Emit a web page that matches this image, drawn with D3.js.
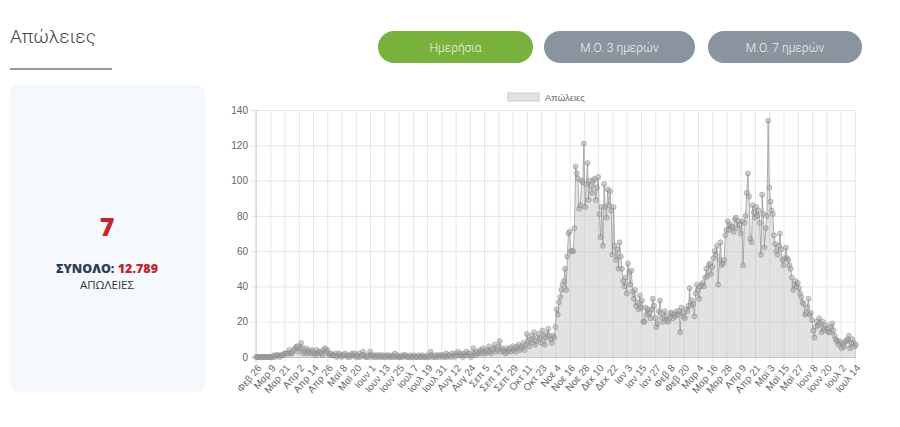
<!DOCTYPE html>
<html>
<head>
<meta charset="utf-8">
<script src="https://cdn.jsdelivr.net/npm/d3@7"></script>
<style>
body{margin:0;background:#fff;}
</style>
</head>
<body>
<div id="chart"></div>
<script>
/* data */
var startDate = new Date(Date.UTC(2020, 1, 26)); // Φεβ 26 2020, one value per day

// Feb 26 2020 - May 2020
var deathsSpring2020 = [
	0,0,0,0,
	0,0,0,0,0,0,0,0,0,0,0,1,0,1,1,1,0,1,1,1,2,2,2,2,4,2,2,3,4,5,6,
	6,3,5,8,5,2,3,5,2,4,3,2,4,3,2,1,4,2,3,3,2,1,4,5,3,4,2,1,2,1,
	1,1,2,0,1,2,1,0,1,1,2,1,0,1,0,1,2,1,2,0,1,0,2,0,1,3,1,0,0,1,0
];
// Jun - Sep 2020
var deathsSummer2020 = [
	3,1,0,1,0,1,0,1,0,1,0,1,0,0,1,0,1,0,0,1,0,2,0,1,0,0,0,1,0,1,
	1,0,0,0,1,0,0,1,0,0,0,1,0,0,1,0,0,0,1,0,0,3,1,0,0,1,0,1,0,1,1,
	0,1,0,2,0,1,1,0,2,1,0,2,1,3,1,2,1,0,2,1,3,1,2,2,0,1,5,2,1,3,2,
	3,4,2,5,3,2,4,3,6,3,2,4,5,7,3,4,6,9,3,5,4,3,2,5,3,4,5,3,6,4
];
// Oct - Dec 2020
var deathsAutumn2020 = [
	5,3,6,7,4,5,6,8,4,7,13,9,6,10,12,8,14,7,9,11,13,10,8,15,12,7,11,13,16,12,10,
	8,12,11,17,27,24,31,34,38,41,43,50,38,57,70,71,60,60,60,73,108,104,101,84,86,100,99,121,85,98,
	110,89,100,97,93,100,101,89,96,102,81,68,85,63,98,85,79,95,86,94,83,58,85,63,55,61,50,65,57,50,43
];
// Jan - Mar 2021
var deathsWinter2021 = [
	40,45,36,53,48,41,49,37,33,38,29,31,27,35,28,32,20,20,28,24,27,25,22,27,33,29,22,17,19,26,32,
	25,22,20,26,23,21,20,22,25,25,22,24,23,26,24,26,14,28,25,23,22,27,26,29,39,29,32,30,
	23,36,41,38,33,40,41,42,40,45,50,46,52,53,47,51,56,60,58,63,41,55,65,52,53,55,69,72,77,72,75
];
// Apr - Jul 15 2021
var deathsSpring2021 = [
	74,74,71,78,79,73,77,75,70,77,52,76,80,93,104,91,67,65,86,82,79,85,80,83,76,58,92,81,62,73,
	80,134,96,88,83,81,69,64,60,58,63,70,61,55,52,56,62,56,55,52,50,45,38,41,43,40,42,39,36,34,31,
	30,24,25,28,33,24,25,21,15,11,17,20,18,22,19,14,20,16,15,18,16,14,14,17,19,15,12,10,9,7,
	9,8,5,7,6,9,9,10,12,5,8,10,8,6,7
];

var tickLabels = ["Φεβ 26","Μαρ 9","Μαρ 21","Απρ 2","Απρ 14","Απρ 26","Μαϊ 8","Μαϊ 20","Ιουν 1","Ιουν 13",
	"Ιουν 25","Ιουλ 7","Ιουλ 19","Ιουλ 31","Αυγ 12","Αυγ 24","Σεπ 5","Σεπ 17","Σεπ 29","Οκτ 11",
	"Οκτ 23","Νοε 4","Νοε 16","Νοε 28","Δεκ 10","Δεκ 22","Ιαν 3","Ιαν 15","Ιαν 27","Φεβ 8",
	"Φεβ 20","Μαρ 4","Μαρ 16","Μαρ 28","Απρ 9","Απρ 21","Μαϊ 3","Μαϊ 15","Μαϊ 27","Ιουν 8",
	"Ιουν 20","Ιουλ 2","Ιουλ 14"];
var tickStep = 12; // days between shown labels
var yTicks = [0,20,40,60,80,100,120,140];

var buttonLabels = ["Ημερήσια","Μ.Ο. 3 ημερών","Μ.Ο. 7 ημερών"];
var title = "Απώλειες";
var seriesName = "Απώλειες";
var todayValue = "7";
var totalValue = "12.789";

var deaths = [].concat(deathsSpring2020, deathsSummer2020, deathsAutumn2020, deathsWinter2021, deathsSpring2021);
var days = deaths.map(function(d,i){ return d3.utcDay.offset(startDate, i); });

/* layout */
var W = 900, H = 427;
var plot = {left:256, right:856, top:110, bottom:357};

var svg = d3.select("#chart").append("svg")
	.attr("width", W).attr("height", H);

// header
svg.append("text")
	.attr("x", 10).attr("y", 43)
	.style("font-family", "Roboto, sans-serif")
	.style("font-weight", 300)
	.style("font-size", "19px")
	.attr("fill", "#454545")
	.text(title);
svg.append("line")
	.attr("x1", 10).attr("x2", 112).attr("y1", 69).attr("y2", 69)
	.attr("stroke", "#333").attr("stroke-width", 1.2);

// buttons
var btnX = [378, 544, 708], btnW = [155, 151, 154];
var btn = svg.selectAll("g.btn").data(buttonLabels).enter().append("g")
	.attr("class", "btn")
	.attr("transform", function(d,i){ return "translate(" + btnX[i] + ",31)"; });
btn.append("rect")
	.attr("width", function(d,i){ return btnW[i]; })
	.attr("height", 32).attr("rx", 16)
	.attr("fill", function(d,i){ return i == 0 ? "#79b13d" : "#8a949f"; });
btn.append("text")
	.attr("x", function(d,i){ return btnW[i]/2; })
	.attr("y", 20.5)
	.attr("text-anchor", "middle")
	.style("font-family", "Roboto, sans-serif")
	.style("font-weight", 300)
	.style("font-size", "12px")
	.attr("fill", "#eef3ea")
	.text(function(d){ return d; });

// left card
svg.append("rect")
	.attr("x", 10).attr("y", 85).attr("width", 195).attr("height", 307).attr("rx", 8)
	.attr("fill", "#f5f8fc");
svg.append("text")
	.attr("x", 107).attr("y", 236).attr("text-anchor", "middle")
	.style("font-family", "'Open Sans', sans-serif")
	.style("font-weight", 800).style("font-size", "25px")
	.attr("fill", "#c4242b")
	.text(todayValue);
var tot = svg.append("text")
	.attr("x", 107).attr("y", 272.5).attr("text-anchor", "middle")
	.style("font-family", "'Open Sans', sans-serif")
	.style("font-weight", 800).style("font-size", "12.5px");
tot.append("tspan").attr("fill", "#2c3e55").text("ΣΥΝΟΛΟ: ");
tot.append("tspan").attr("fill", "#c4242b").text(totalValue);
svg.append("text")
	.attr("x", 107).attr("y", 288.5).attr("text-anchor", "middle")
	.style("font-family", "'Open Sans', sans-serif")
	.style("font-size", "11.5px")
	.attr("fill", "#333")
	.text("ΑΠΩΛΕΙΕΣ");

/* chart */
var x = d3.scaleUtc().domain([days[0], days[days.length-1]]).range([plot.left, plot.right]);
var y = d3.scaleLinear().domain([0, 140]).range([plot.bottom, plot.top]);
var tickDays = tickLabels.map(function(t,i){ return d3.utcDay.offset(startDate, i*tickStep); });

var g = svg.append("g").style("font-family", "'Liberation Sans', Arial, sans-serif");

// vertical grid + tick marks
var gx = g.append("g")
	.attr("transform", "translate(0," + plot.top + ")")
	.call(d3.axisBottom(x).tickValues(tickDays).tickSize(plot.bottom - plot.top + 5).tickFormat(""));
gx.select(".domain").remove();
gx.selectAll("line").attr("stroke", "#e6e6e6");

// horizontal grid + tick marks + labels
var gy = g.append("g")
	.attr("transform", "translate(" + (plot.left - 5) + ",0)")
	.call(d3.axisLeft(y).tickValues(yTicks).tickSize(-(plot.right - plot.left + 5)).tickPadding(3));
gy.select(".domain").remove();
gy.selectAll("line").attr("stroke", function(d){ return d == 0 ? "#c4c4c4" : "#e6e6e6"; });
gy.selectAll("text").attr("fill", "#666").style("font-size", "10px");

// left axis line
g.append("line")
	.attr("x1", plot.left).attr("x2", plot.left).attr("y1", plot.top).attr("y2", plot.bottom + 5)
	.attr("stroke", "#cfcfcf");

// x labels
var lx = g.append("g")
	.attr("transform", "translate(0," + plot.bottom + ")")
	.call(d3.axisBottom(x).tickValues(tickDays).tickSize(0)
		.tickFormat(function(d,i){ return tickLabels[i]; }));
lx.select(".domain").remove();
lx.selectAll("text")
	.attr("y", 0).attr("dy", "0.35em")
	.attr("text-anchor", "end")
	.attr("transform", "translate(3,9) rotate(-50)")
	.attr("fill", "#666")
	.style("font-size", "10px");

// area, line, points
var area = d3.area()
	.x(function(d,i){ return x(days[i]); })
	.y0(y(0))
	.y1(function(d){ return y(d); });
var line = d3.line()
	.x(function(d,i){ return x(days[i]); })
	.y(function(d){ return y(d); });

g.append("path").datum(deaths)
	.attr("d", area)
	.attr("fill", "rgba(185,185,185,0.42)");
g.append("path").datum(deaths)
	.attr("d", line)
	.attr("fill", "none")
	.attr("stroke", "rgba(140,140,140,0.65)")
	.attr("stroke-width", 1);
g.append("g").selectAll("circle")
	.data(deaths).enter().append("circle")
	.attr("cx", function(d,i){ return x(days[i]); })
	.attr("cy", function(d){ return y(d); })
	.attr("r", 2.5)
	.attr("fill", "rgba(165,165,165,0.5)")
	.attr("stroke", "rgba(135,135,135,0.5)")
	.attr("stroke-width", 1);

// legend
var lg = g.append("g").attr("transform", "translate(508,93)");
lg.append("rect").attr("width", 31).attr("height", 8)
	.attr("fill", "#e3e3e3").attr("stroke", "#cacaca");
lg.append("text").attr("x", 37).attr("y", 7.5)
	.attr("fill", "#666").style("font-size", "9.5px")
	.text(seriesName);
</script>
</body>
</html>
